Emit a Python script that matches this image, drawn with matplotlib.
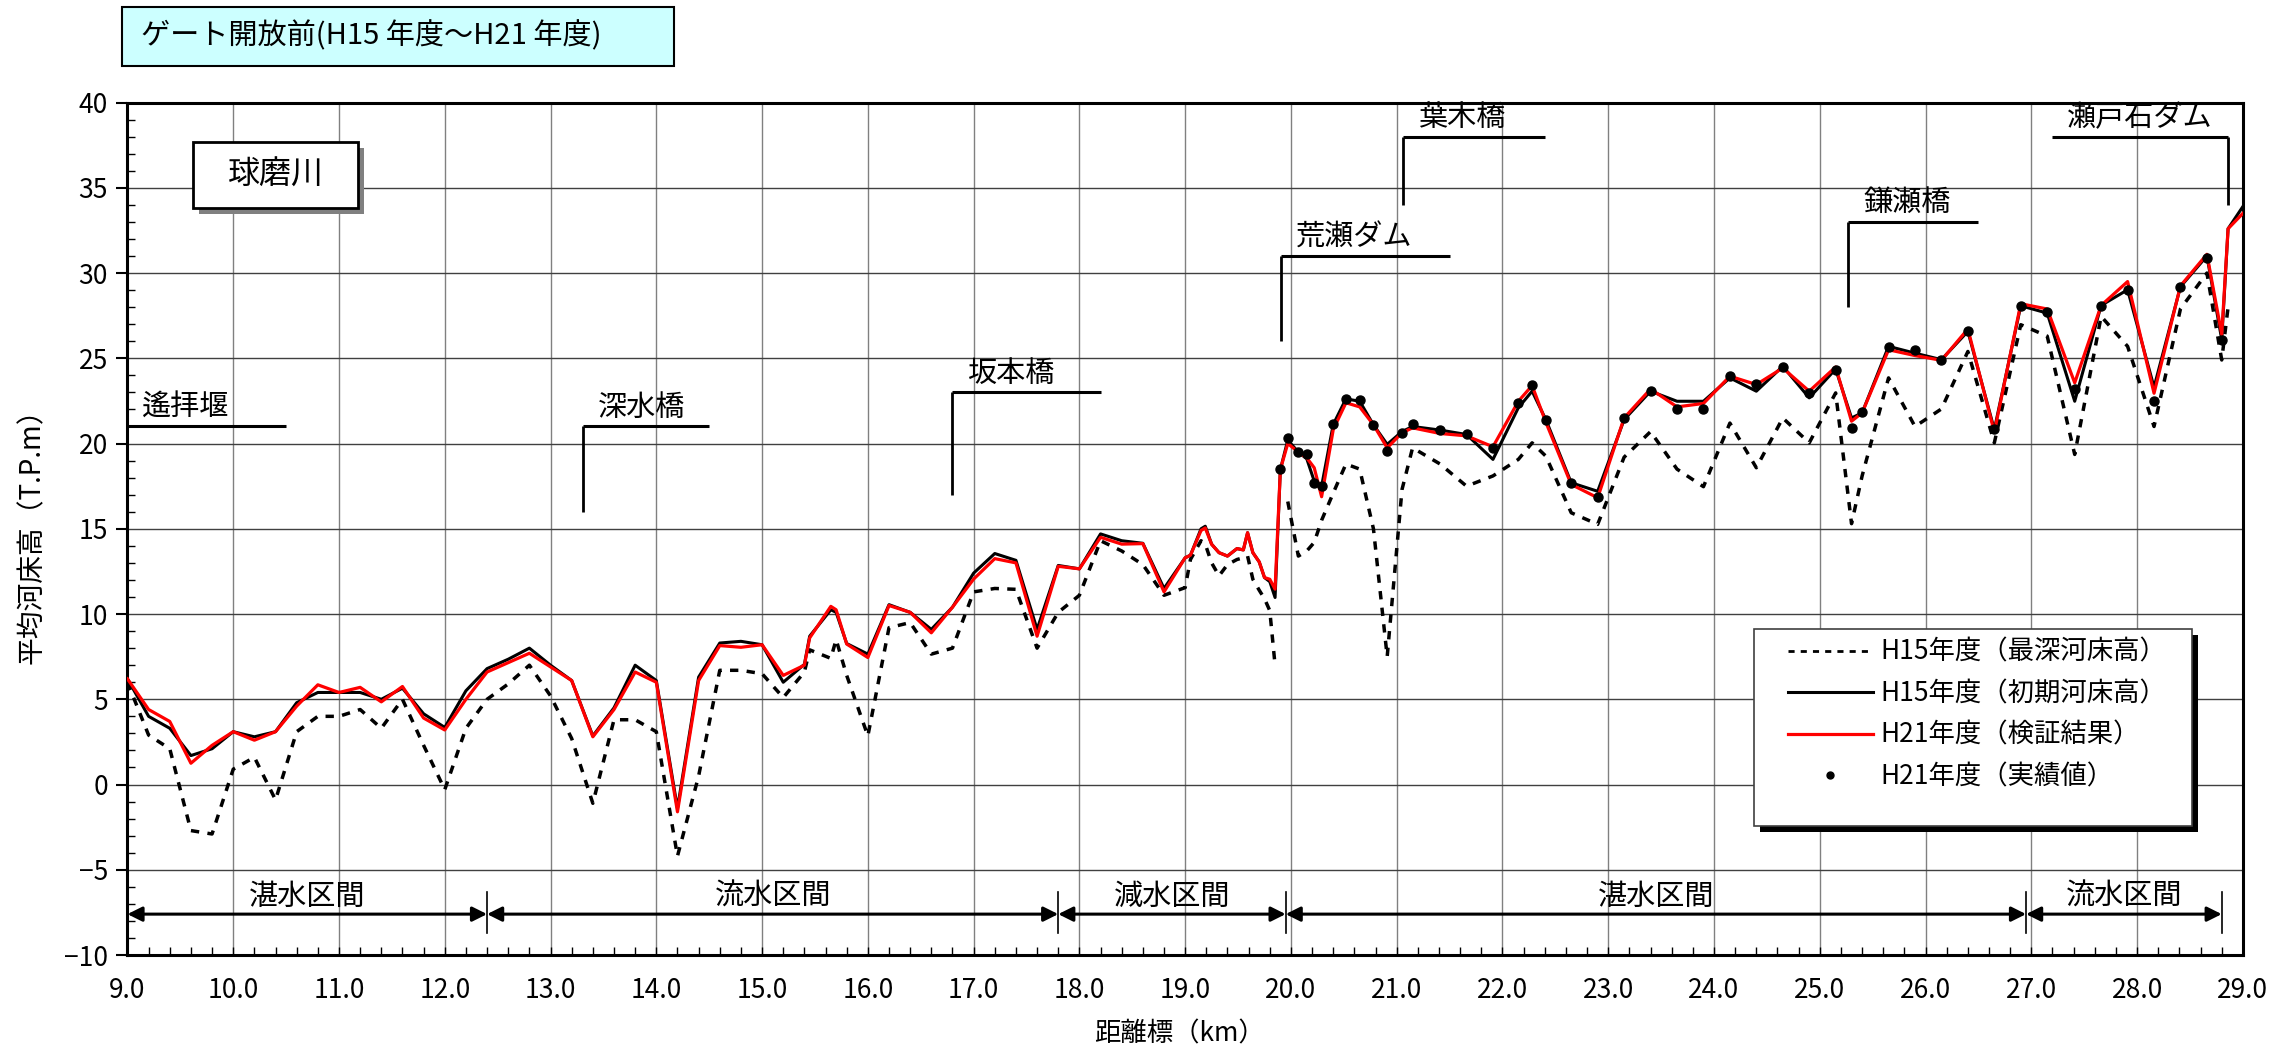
from matplotlib import pyplot as pl
from matplotlib.lines import Line2D
from matplotlib.patches import Rectangle
from matplotlib.ticker import MultipleLocator, FormatStrFormatter
import numpy as np

pl.rcParams['font.family'] = ['Noto Sans CJK JP', 'DejaVu Sans']

# distance marks (km) shared by the three line series
km = [9.0, 9.2, 9.4, 9.6, 9.8, 10.0, 10.2, 10.4, 10.6, 10.8, 11.0,
      11.2, 11.4, 11.6, 11.8, 12.0, 12.2, 12.4, 12.6, 12.8, 13.0, 13.2,
      13.4, 13.6, 13.8, 14.0, 14.2, 14.4, 14.6, 14.8, 15.0, 15.2, 15.4,
      15.45, 15.65, 15.7, 15.8,
      16.0, 16.2, 16.4, 16.6, 16.8, 17.0, 17.2, 17.4, 17.6, 17.8, 18.0,
      18.2, 18.4, 18.6, 18.8, 19.0,
      19.05, 19.15, 19.19, 19.25, 19.32, 19.4, 19.49, 19.55, 19.59,
      19.64, 19.7, 19.75, 19.8, 19.85,
      19.9, 19.97, 20.07, 20.15, 20.22, 20.29, 20.4, 20.52, 20.65, 20.78,
      20.91, 21.05, 21.15, 21.41, 21.66, 21.91, 22.15, 22.28, 22.41,
      22.65, 22.9,
      23.15, 23.4, 23.65, 23.9, 24.15, 24.4, 24.65, 24.9, 25.15, 25.3,
      25.4, 25.65, 25.9, 26.15, 26.4, 26.65, 26.9, 27.15, 27.41, 27.66,
      27.91, 28.16, 28.41, 28.66, 28.8, 28.86, 29.0]

# H15 deepest bed
deep_h15 = [6.0, 2.9, 2.1, -2.7, -2.9, 0.9, 1.6, -0.9, 3.1, 4.0, 4.0,
            4.4, 3.3, 5.0, 2.3, -0.3, 3.3, 5.0, 5.9, 7.0, 5.2, 2.7,
            -1.1, 3.8, 3.8, 3.1, -4.2, 0.5, 6.7, 6.7, 6.5, 5.1, 6.6,
            7.9, 7.4, 8.5, 6.4,
            2.85, 9.2, 9.5, 7.65, 8.0, 11.3, 11.5, 11.45, 8.0, 10.1, 11.1,
            14.3, 13.7, 12.9, 11.1, 11.55,
            13.2, 14.3, 14.1, 13.0, 12.24, 12.9, 13.2, 13.3, 13.4,
            12.04, 11.4, 10.9, 10.2, 7.0,
            np.nan, 16.6, 13.4, 13.7, 14.2, 15.5, 17.1, 18.8, 18.5, 15.0,
            7.5, 17.3, 19.75, 18.8, 17.5, 18.1, 19.07, 20.04, 19.26,
            15.94, 15.26,
            19.2, 20.7, 18.5, 17.47, 21.2, 18.58, 21.5, 20.04, 22.97, 15.3,
            18.1, 23.85, 21.0, 22.03, 25.4, 20.04, 26.97, 26.3, 19.36, 27.46,
            25.7, 21.0, 27.9, 30.0, 24.9, 28.0, np.nan]

# H15 initial bed
init_h15 = [6.2, 4.0, 3.3, 1.7, 2.1, 3.1, 2.8, 3.1, 4.8, 5.4, 5.4,
            5.4, 5.0, 5.65, 4.15, 3.35, 5.5, 6.8, 7.35, 8.0, 7.0, 6.1,
            2.85, 4.5, 7.0, 6.1, -1.4, 6.3, 8.3, 8.4, 8.2, 6.0, 7.05,
            8.7, 10.25, 10.1, 8.27,
            7.65, 10.55, 10.1, 9.1, 10.4, 12.4, 13.55, 13.15, 9.1, 12.85,
            12.65, 14.7, 14.3, 14.15, 11.5, 13.3,
            13.45, 15.0, 15.15, 14.1, 13.6, 13.4, 13.84, 13.76, 14.77,
            13.6, 13.06, 12.14, 11.9, 10.97,
            18.48, 20.2, 19.5, 19.1, 17.8, 17.5, 21.12, 22.62, 22.48, 21.1,
            19.95, 20.7, 21.0, 20.79, 20.53, 19.07, 22.1, 23.07, 21.4,
            17.7, 17.2,
            21.4, 23.07, 22.48, 22.48, 23.85, 23.07, 24.53, 22.68, 24.37,
            21.5, 21.8, 25.7, 25.3, 24.92, 26.58, 20.82, 28.08, 27.65, 22.48,
            28.1, 29.02, 23.3, 29.2, 31.0, 26.1, 32.6, 33.9]

# H21 simulated bed
calc_h21 = [6.2, 4.4, 3.7, 1.25, 2.3, 3.1, 2.6, 3.1, 4.6, 5.85, 5.4,
            5.7, 4.85, 5.75, 3.9, 3.2, 5.0, 6.6, 7.15, 7.7, 6.9, 6.1,
            2.8, 4.4, 6.6, 6.0, -1.6, 6.1, 8.15, 8.05, 8.2, 6.4, 7.0,
            8.6, 10.45, 10.25, 8.24,
            7.45, 10.5, 10.1, 8.9, 10.4, 12.05, 13.25, 13.0, 8.7, 12.8,
            12.65, 14.5, 14.1, 14.13, 11.3, 13.3,
            13.45, 14.9, 15.05, 14.09, 13.6, 13.4, 13.84, 13.76, 14.77,
            13.6, 13.06, 12.14, 12.04, 11.46,
            18.48, 20.0, 19.5, 19.16, 18.58, 16.88, 20.82, 22.39, 22.15, 21.1,
            19.75, 20.63, 20.92, 20.59, 20.45, 19.81, 22.48, 23.4, 21.25,
            17.6, 16.82,
            21.5, 23.2, 22.15, 22.35, 23.95, 23.46, 24.43, 23.07, 24.49,
            21.31, 21.8, 25.5, 25.16, 24.88, 26.72, 20.67, 28.2, 27.89, 23.56,
            28.1, 29.5, 22.95, 29.25, 31.1, 26.4, 32.6, 33.5]

# H21 observed
obs_km = [19.9, 19.97, 20.07, 20.15, 20.22, 20.29, 20.4, 20.52, 20.65,
          20.78, 20.91, 21.05, 21.15, 21.41, 21.66, 21.91, 22.15, 22.28,
          22.41, 22.65, 22.9, 23.15, 23.4, 23.65, 23.9, 24.15, 24.4, 24.65,
          24.9, 25.15, 25.3, 25.4, 25.65, 25.9, 26.15, 26.4, 26.65, 26.9,
          27.15, 27.41, 27.66, 27.91, 28.16, 28.41, 28.66, 28.8]
obs_h21 = [18.48, 20.3, 19.52, 19.36, 17.7, 17.5, 21.12, 22.62, 22.56,
           21.1, 19.56, 20.6, 21.14, 20.78, 20.55, 19.71, 22.39, 23.46,
           21.41, 17.66, 16.86, 21.5, 23.07, 22.03, 22.03, 23.98, 23.5, 24.49,
           22.97, 24.34, 20.92, 21.84, 25.66, 25.5, 24.92, 26.58, 20.86, 28.08,
           27.69, 23.2, 28.08, 29.02, 22.48, 29.21, 30.87, 26.05]

# landmarks: location, bracket top, bracket bottom, end of the top bar
mark_names = ['遙拝堰', '深水橋', '坂本橋', '荒瀬ダム', '葉木橋', '鎌瀬橋',
              '瀬戸石ダム']
mark_km = [9.0, 13.31, 16.8, 19.91, 21.06, 25.27, 28.86]
mark_top = [21.0, 21.0, 23.0, 31.0, 38.0, 33.0, 38.0]
mark_bottom = [21.0, 16.0, 17.0, 26.0, 34.0, 28.0, 34.0]
mark_end = [10.5, 14.5, 18.2, 21.5, 22.4, 26.5, 27.2]

# river sections
section_edges = [9.0, 12.4, 17.8, 19.95, 26.95, 28.8]
section_names = ['湛水区間', '流水区間', '減水区間', '湛水区間', '流水区間']

labels = ['H15年度（最深河床高）', 'H15年度（初期河床高）',
          'H21年度（検証結果）', 'H21年度（実績値）']

fig = pl.figure(figsize=(22.84, 10.56), dpi=100)
ax = fig.add_axes([0.0558, 0.0956, 0.9262, 0.8073])

l1, = ax.plot(km, deep_h15, color='k', lw=2.5, linestyle=(0, (2.4, 2.4)),
              zorder=2)
l2, = ax.plot(km, init_h15, color='k', lw=2.2, zorder=3)
l3, = ax.plot(km, calc_h21, color='#ff0000', lw=2.3, zorder=4)
l4, = ax.plot(obs_km, obs_h21, linestyle='none', marker='o', ms=6.5,
              color='k', zorder=5)

ax.set_xlim(9.0, 29.0)
ax.set_ylim(-10, 40)
ax.xaxis.set_major_locator(MultipleLocator(1.0))
ax.xaxis.set_minor_locator(MultipleLocator(0.2))
ax.yaxis.set_major_locator(MultipleLocator(5))
ax.yaxis.set_minor_locator(MultipleLocator(1))
ax.xaxis.set_major_formatter(FormatStrFormatter('%.1f'))

ax.tick_params(axis='x', which='major', direction='in', length=6, width=1,
               labelsize=19, pad=16)
ax.tick_params(axis='x', which='minor', direction='in', length=6, width=1)
ax.tick_params(axis='y', which='major', direction='out', length=8, width=1.5,
               labelsize=19, pad=6)
ax.tick_params(axis='y', which='minor', direction='in', length=6, width=1)

ax.set_axisbelow(True)
ax.grid(axis='x', which='major', color='#808080', lw=1.0)
ax.grid(axis='y', which='major', color='#404040', lw=1.0)
for s in ax.spines.values():
    s.set_linewidth(2.2)

ax.set_xlabel('距離標（km）', fontsize=19)
ax.set_ylabel('平均河床高（T.P.m）', fontsize=20)
ax.xaxis.set_label_coords(0.4975, -0.077)
ax.yaxis.set_label_coords(-0.038, 0.5)

# landmark brackets
for name, x, top, bot, end in zip(mark_names, mark_km, mark_top,
                                   mark_bottom, mark_end):
    ax.plot([x, x], [bot, top], color='k', lw=2.0, zorder=6,
            solid_capstyle='butt')
    ax.plot([x, end], [top, top], color='k', lw=2.2, zorder=6,
            solid_capstyle='butt')
    ax.text(min(x, end) + 0.14, top + 0.2, name, fontsize=21,
            ha='left', va='bottom', zorder=7)

# river sections with arrows
for x0, x1, name in zip(section_edges[:-1], section_edges[1:],
                        section_names):
    ax.annotate('', xy=(x1, -7.6), xytext=(x0, -7.6),
                arrowprops=dict(arrowstyle='<|-|>', color='k', lw=2.2,
                                mutation_scale=22, shrinkA=0, shrinkB=0))
    ax.text((x0 + x1) / 2, -6.6, name, fontsize=21, ha='center',
            va='center')
for x in section_edges[1:]:
    ax.plot([x, x], [-8.7, -6.3], color='k', lw=1.2)

# river name box
ax.add_patch(Rectangle((9.677, 33.49), 1.56, 3.86, facecolor='#808080',
                       edgecolor='none', zorder=6))
ax.add_patch(Rectangle((9.62, 33.84), 1.56, 3.86, facecolor='white',
                       edgecolor='k', lw=2.0, zorder=7))
ax.text(10.4, 35.77, '球磨川', fontsize=23, ha='center', va='center',
        zorder=8)

# legend frame with shadow
ax.add_patch(Rectangle((24.437, -2.77), 4.14, 11.54, facecolor='k',
                       edgecolor='none', zorder=8))
ax.add_patch(Rectangle((24.38, -2.42), 4.14, 11.54, facecolor='white',
                       edgecolor='#404040', lw=1.2, zorder=9))
dot_handle = Line2D([], [], linestyle='none', marker='o', ms=5, color='k')
dash_handle = Line2D([], [], color='k', lw=2.0, linestyle=(0, (2.2, 2.2)))
leg = ax.legend([dash_handle, l2, l3, dot_handle], labels, loc='upper left',
                bbox_to_anchor=(0.785, 0.371), frameon=False, fontsize=19,
                borderpad=0, borderaxespad=0, handlelength=3.2,
                handletextpad=0.3, labelspacing=0.55)
leg.set_zorder(10)

# title box
fig.patches.append(Rectangle((0.0534, 0.9375), 0.2417, 0.0559,
                             transform=fig.transFigure, facecolor='#ccffff',
                             edgecolor='k', lw=1.5))
fig.text(0.0617, 0.966, 'ゲート開放前(H15 年度～H21 年度)', fontsize=21,
         ha='left', va='center')

fig.savefig('out.png', dpi=100)
